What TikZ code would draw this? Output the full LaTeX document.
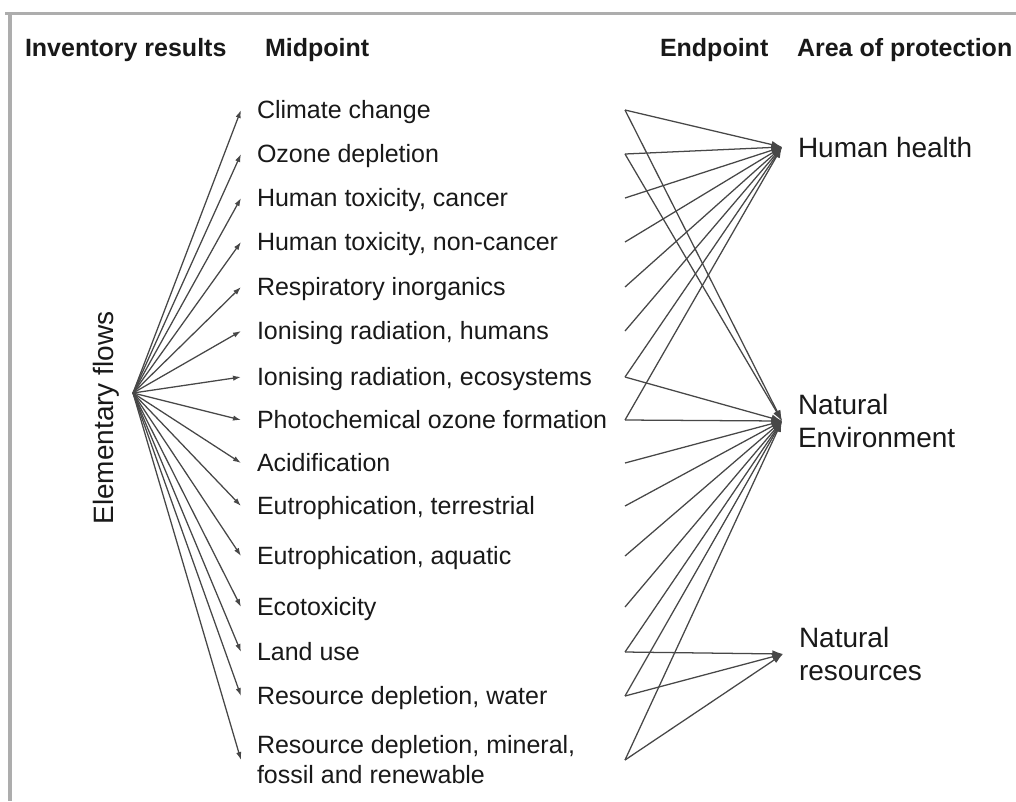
\documentclass[tikz,border=0pt]{standalone}
\usepackage{fontspec}
\setmainfont{Liberation Sans}
\usetikzlibrary{arrows.meta}
\begin{document}
\begin{tikzpicture}[x=0.75pt,y=-0.75pt,
  txt/.style={text=black!90, inner sep=0pt, outer sep=0pt},
  head/.style={txt, anchor=base west, font=\fontsize{18.75}{22}\selectfont\bfseries},
  midlab/.style={txt, anchor=west, inner xsep=12pt, text height=13.4pt, text depth=0pt,
                 font=\fontsize{18.75}{22.5}\selectfont},
  midlabtwo/.style={txt, anchor=west, inner xsep=12pt, align=left,
                 font=\fontsize{18.75}{22.5}\selectfont},
  aop/.style={txt, anchor=west, inner xsep=12pt, align=left,
                 font=\fontsize{21}{24.4}\selectfont},
  conn/.style={draw=black!72, line width=0.95pt},
  toMid/.style={conn, -{Latex[length=6pt,width=4pt]}},
  toAoP/.style={conn, -{Latex[length=8pt,width=5.5pt]}},
  frame/.style={draw=black!32, line width=2.3pt}
]
\useasboundingbox (0,0) rectangle (1016,801);
\fill[white] (0,0) rectangle (1016,801);
% frame lines
\draw[frame] (5,13.5) -- (1016,13.5);
\draw[frame] (10,12.5) -- (10,801);

% headings
\node[head] (hInv) at (25,56) {Inventory results};
\node[head] (hMid) at (265,56) {Midpoint};
\node[head] (hEnd) at (660,56) {Endpoint};
\node[head] (hAoP) at (797,56) {Area of protection};

% elementary flows
\node[txt, rotate=90, font=\fontsize{21}{25}\selectfont] (EF) at (106,418) {Elementary flows};
\coordinate (F) at (133,393);

% midpoint labels
\node[midlab] (m1)  at (241,110) {Climate change};
\node[midlab] (m2)  at (241,154) {Ozone depletion};
\node[midlab] (m3)  at (241,198) {Human toxicity, cancer};
\node[midlab] (m4)  at (241,242) {Human toxicity, non-cancer};
\node[midlab] (m5)  at (241,287) {Respiratory inorganics};
\node[midlab] (m6)  at (241,331) {Ionising radiation, humans};
\node[midlab] (m7)  at (241,377) {Ionising radiation, ecosystems};
\node[midlab] (m8)  at (241,420) {Photochemical ozone formation};
\node[midlab] (m9)  at (241,463) {Acidification};
\node[midlab] (m10) at (241,506) {Eutrophication, terrestrial};
\node[midlab] (m11) at (241,556) {Eutrophication, aquatic};
\node[midlab] (m12) at (241,607) {Ecotoxicity};
\node[midlab] (m13) at (241,652) {Land use};
\node[midlab] (m14) at (241,696) {Resource depletion, water};
\node[midlabtwo] (m15) at (241,760) {Resource depletion, mineral,\\fossil and renewable};

% arrows from elementary flows
\foreach \i in {1,...,15} {
  \draw[toMid] (F) -- (m\i.west);
}

% right-side start points of midpoint connectors
\coordinate (r1)  at (625,110);
\coordinate (r2)  at (625,154);
\coordinate (r3)  at (625,198);
\coordinate (r4)  at (625,242);
\coordinate (r5)  at (625,287);
\coordinate (r6)  at (625,331);
\coordinate (r7)  at (625,377);
\coordinate (r8)  at (625,420);
\coordinate (r9)  at (625,463);
\coordinate (r10) at (625,506);
\coordinate (r11) at (625,556);
\coordinate (r12) at (625,607);
\coordinate (r13) at (625,652);
\coordinate (r14) at (625,696);
\coordinate (r15) at (625,760);

% areas of protection
\node[aop, text height=15pt, text depth=0pt] (HH) at (782,147) {Human health};
\node[aop] (NE) at (782,421) {Natural\\Environment};
\node[aop] (NR) at (783,654) {Natural\\resources};

% connectors to Human health
\foreach \i in {1,2,3,4,5,6,7,8} {
  \draw[toAoP] (r\i) -- (HH.west);
}
% connectors to Natural Environment
\foreach \i in {1,2,7,8,9,10,11,12,13,14,15} {
  \draw[toAoP] (r\i) -- (NE.west);
}
% connectors to Natural resources
\foreach \i in {13,14,15} {
  \draw[toAoP] (r\i) -- (NR.west);
}
\end{tikzpicture}
\end{document}
